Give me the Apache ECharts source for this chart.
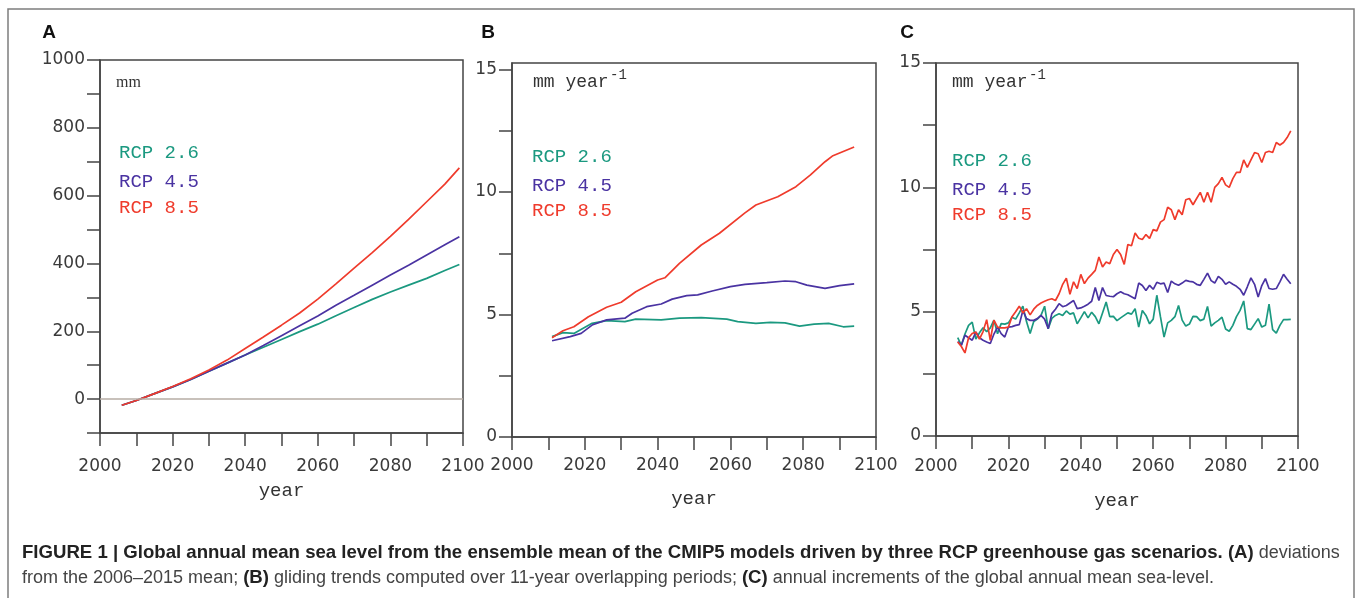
<!DOCTYPE html>
<html>
<head>
<meta charset="utf-8">
<script src="https://cdn.jsdelivr.net/npm/echarts@6/dist/echarts.min.js"></script>
<style>
html, body { margin: 0; padding: 0; background: #fff; }
#main { width: 1357px; height: 598px; }
</style>
</head>
<body>
<div id="main"></div>
<script>
// ---- data ----
var names = ['RCP 2.6', 'RCP 4.5', 'RCP 8.5'];

// panel A: deviations from 2006-2015 mean, mm
var aYears = [2006, 2010, 2015, 2020, 2025, 2030, 2035, 2040, 2045, 2050, 2055, 2060, 2065, 2070, 2075, 2080, 2085, 2090, 2095, 2099];
var aRcp26 = [-18, -4, 16, 36, 58, 82, 106, 130, 153, 176, 199, 221, 246, 270, 294, 316, 336, 356, 379, 397];
var aRcp45 = [-18, -4, 16, 36, 58, 82, 106, 130, 158, 187, 216, 245, 277, 306, 336, 366, 395, 425, 455, 479];
var aRcp85 = [-18, -4, 16, 37, 60, 86, 115, 149, 183, 218, 254, 295, 340, 386, 432, 480, 530, 582, 634, 682];

// panel B: 11-year gliding trends, mm/year
var bYears26 = [2011, 2014, 2017, 2022, 2026, 2031, 2034, 2041, 2046, 2052, 2059, 2062, 2067, 2071, 2075, 2079, 2083, 2087, 2091, 2094];
var bRcp26 = [4.1, 4.26, 4.23, 4.64, 4.75, 4.71, 4.81, 4.78, 4.85, 4.87, 4.81, 4.71, 4.64, 4.68, 4.66, 4.53, 4.61, 4.64, 4.5, 4.53];
var bYears45 = [2011, 2016, 2019, 2022, 2026, 2031, 2033, 2037, 2041, 2044, 2048, 2051, 2055, 2060, 2064, 2070, 2075, 2078, 2081, 2086, 2090, 2094];
var bRcp45 = [3.93, 4.1, 4.23, 4.57, 4.78, 4.85, 5.05, 5.32, 5.43, 5.63, 5.77, 5.8, 5.96, 6.14, 6.23, 6.3, 6.37, 6.34, 6.2, 6.07, 6.18, 6.25];
var bYears85 = [2011, 2014, 2017, 2021, 2026, 2030, 2034, 2040, 2042, 2046, 2052, 2057, 2064, 2067, 2073, 2078, 2082, 2086, 2088, 2094];
var bRcp85 = [4.05, 4.34, 4.5, 4.91, 5.3, 5.5, 5.93, 6.41, 6.5, 7.09, 7.84, 8.32, 9.15, 9.47, 9.81, 10.22, 10.7, 11.24, 11.47, 11.84];

// panel C: annual increments, mm/year, one value per year from cStartYear
var cStartYear = 2006;
var cRcp26 = [
  3.96, 3.65, 4.1, 4.45, 4.58, 3.9, 4.15, 4.35, 4.2, 4.35,
  4.66, 4.11, 4.52, 4.5, 4.55, 4.78, 4.7, 4.95, 5.22, 4.6,
  4.12, 4.6, 4.7, 4.85, 5.22, 4.31, 4.73, 4.85, 4.92, 4.85,
  5.03, 4.9, 4.95, 4.51, 4.75, 5.0, 4.75, 4.98, 4.8, 4.51,
  4.95, 5.39, 4.8, 4.81, 4.64, 4.75, 4.85, 4.95, 4.9, 5.12,
  4.38, 5.05, 4.85, 4.51, 4.7, 5.66, 4.8, 3.98, 4.55, 4.65,
  4.8, 5.25, 4.66, 4.42, 4.5, 4.81, 4.8, 4.64, 4.7, 5.21,
  4.42, 4.55, 4.65, 4.78, 4.3, 4.21, 4.45, 4.8, 5.05, 5.43,
  4.32, 4.28, 4.5, 4.72, 4.38, 4.45, 5.3, 4.28, 4.14, 4.45,
  4.68, 4.68, 4.69
];
var cRcp45 = [
  3.8, 3.65, 4.05, 3.95, 3.85, 4.18, 3.95, 3.85, 3.78, 3.72,
  4.1, 4.38, 4.12, 3.98, 4.38, 4.4, 4.45, 4.48, 5.05, 4.72,
  4.65, 4.65, 4.72, 4.85, 4.7, 4.32, 4.92, 5.1, 5.32, 5.2,
  5.25, 5.35, 5.45, 5.12, 5.15, 5.22, 5.3, 5.42, 5.97, 5.45,
  5.97, 5.65, 5.62, 5.6, 5.72, 5.8, 5.72, 5.68, 5.6, 5.52,
  6.15, 6.05, 5.85, 6.06, 5.9, 6.18, 6.12, 6.15, 5.77, 6.23,
  6.12, 6.06, 6.15, 6.26, 6.22, 6.2, 6.1, 6.06, 6.3, 6.55,
  6.25, 6.15, 6.42, 6.3, 6.1, 6.2, 6.1, 6.02, 5.9, 5.66,
  6.0, 6.36, 6.1, 5.59, 6.05, 6.33, 5.93, 5.9, 5.93, 6.2,
  6.5, 6.3, 6.12
];
var cRcp85 = [
  3.78, 3.6, 3.34, 3.95, 4.12, 4.18, 3.9, 4.2, 4.68, 3.85,
  4.66, 4.38, 4.35, 4.35, 4.38, 4.8, 5.0, 5.22, 4.95, 5.12,
  4.87, 5.1, 5.25, 5.35, 5.42, 5.48, 5.52, 5.45, 5.72, 6.1,
  6.35, 5.7, 6.2, 5.93, 6.5, 6.13, 6.35, 6.5, 6.66, 7.2,
  6.8, 7.0, 6.93, 7.3, 7.5, 7.3, 6.9, 7.7, 7.65, 8.16,
  7.95, 7.9, 8.1, 7.95, 8.3, 8.25, 8.6, 8.7, 9.2, 9.1,
  8.7, 9.1, 8.9, 9.5, 9.55, 9.3, 9.55, 9.8, 9.4, 9.8,
  9.4, 10.0, 10.15, 10.4, 10.1, 10.0, 10.35, 10.6, 10.6, 11.1,
  10.8, 11.1, 11.4, 11.35, 11.0, 11.4, 11.45, 11.4, 11.8, 11.7,
  11.8, 12.0, 12.27
];

// ticks and tick labels
var xTicks = [2000, 2010, 2020, 2030, 2040, 2050, 2060, 2070, 2080, 2090, 2100];
var xLabels = [2000, 2020, 2040, 2060, 2080, 2100];
var aYTicks = [-100, 0, 100, 200, 300, 400, 500, 600, 700, 800, 900, 1000];
var aYLabels = [0, 200, 400, 600, 800, 1000];
var bcYTicks = [0, 2.5, 5, 7.5, 10, 12.5, 15];
var bcYLabels = [0, 5, 10, 15];

var caption1 = '{b|FIGURE 1 | Global annual mean sea level from the ensemble mean of the CMIP5 models driven by three RCP greenhouse gas scenarios. (A)}{n| deviations}';
var caption2 = '{n|from the 2006\u20132015 mean; }{b|(B)}{n| gliding trends computed over 11-year overlapping periods; }{b|(C)}{n| annual increments of the global annual mean sea-level.}';

// ---- helpers ----
var colors = ['#1b9980', '#4a33a2', '#ef3b2c'];
var axisColor = '#444';
var tickFont = 'DejaVu Sans';
var monoFont = 'Liberation Mono';

function pairs(xs, ys) {
  return xs.map(function (x, i) { return [x, ys[i]]; });
}
function yearly(start, ys) {
  return ys.map(function (v, i) { return [start + i, v]; });
}
function plain(v) { return String(v); }

function xAxisFor(gi, margin, gap) {
  return {
    type: 'value', gridIndex: gi, min: 2000, max: 2100,
    axisLine: { show: true, onZero: false, lineStyle: { color: axisColor, width: 1.5 } },
    axisTick: { show: true, length: 13, customValues: xTicks, lineStyle: { color: axisColor, width: 1.5 } },
    axisLabel: { customValues: xLabels, formatter: plain, margin: margin, fontFamily: tickFont, fontSize: 17, color: '#3a3a3a' },
    splitLine: { show: false },
    name: 'year', nameLocation: 'middle', nameGap: gap,
    nameTextStyle: { fontFamily: monoFont, fontSize: 19, color: '#333' }
  };
}
function yAxisFor(gi, min, max, ticks, labels) {
  return {
    type: 'value', gridIndex: gi, min: min, max: max,
    axisLine: { show: true, onZero: false, lineStyle: { color: axisColor, width: 1.5 } },
    axisTick: { show: true, length: 13, customValues: ticks, lineStyle: { color: axisColor, width: 1.5 } },
    axisLabel: { customValues: labels, formatter: plain, margin: 15, fontFamily: tickFont, fontSize: 17, color: '#3a3a3a' },
    splitLine: { show: false }
  };
}
function lineSeries(gi, idx, data, extra) {
  var s = {
    type: 'line', name: names[idx], xAxisIndex: gi, yAxisIndex: gi,
    data: data, showSymbol: false, symbol: 'none', silent: true,
    lineStyle: { color: colors[idx], width: 1.7 },
    itemStyle: { color: colors[idx] }
  };
  if (extra) { for (var k in extra) s[k] = extra[k]; }
  return s;
}
function txt(x, y, text, font, fill, align) {
  return {
    type: 'text', silent: true,
    style: {
      x: x, y: y, text: text, font: font, fill: fill,
      align: align || 'left', verticalAlign: 'middle',
      textAlign: align || 'left', textVerticalAlign: 'middle'
    }
  };
}
function rcpLabels(x, ys) {
  return names.map(function (n, i) {
    return txt(x, ys[i], n, '19px "' + monoFont + '"', colors[i]);
  });
}

var grid = { show: true, borderColor: axisColor, borderWidth: 1.5, backgroundColor: 'transparent', containLabel: false, outerBoundsMode: 'none' };
function g(left, top, right, bottom) {
  return Object.assign({}, grid, { left: left, top: top, right: right, bottom: bottom });
}

var capRich = {
  b: { fontFamily: 'Liberation Sans', fontWeight: 'bold', fontSize: 18.6, fill: '#222', color: '#222' },
  n: { fontFamily: 'Liberation Sans', fontWeight: 'normal', fontSize: 18, fill: '#444', color: '#444' }
};

var graphics = [
  { type: 'rect', silent: true, shape: { x: 8, y: 9, width: 1346, height: 640 }, style: { fill: 'none', stroke: '#7d7d7d', lineWidth: 1.5 } },
  txt(49, 33, 'A', 'bold 19px "Liberation Sans"', '#111', 'center'),
  txt(488, 33, 'B', 'bold 19px "Liberation Sans"', '#111', 'center'),
  txt(907, 33, 'C', 'bold 19px "Liberation Sans"', '#111', 'center'),
  txt(116, 83, 'mm', '16px "Liberation Serif"', '#333'),
  txt(533, 82, 'mm year', '18px "' + monoFont + '"', '#333'),
  txt(610, 75, '-1', '14px "' + monoFont + '"', '#333'),
  txt(952, 82, 'mm year', '18px "' + monoFont + '"', '#333'),
  txt(1029, 75, '-1', '14px "' + monoFont + '"', '#333'),
  { type: 'text', silent: true, style: { x: 22, y: 553, text: caption1, rich: capRich, verticalAlign: 'middle', textVerticalAlign: 'middle' } },
  { type: 'text', silent: true, style: { x: 22, y: 578, text: caption2, rich: capRich, verticalAlign: 'middle', textVerticalAlign: 'middle' } }
].concat(rcpLabels(119, [153, 182, 208]))
 .concat(rcpLabels(532, [157, 186, 211]))
 .concat(rcpLabels(952, [161, 190, 215]));

var option = {
  animation: false,
  backgroundColor: '#fff',
  grid: [
    g(100, 60, 894, 165),
    g(512, 63, 481, 161),
    g(936, 63, 59, 162)
  ],
  xAxis: [xAxisFor(0, 25, 48), xAxisFor(1, 20, 52), xAxisFor(2, 22, 55)],
  yAxis: [
    yAxisFor(0, -100, 1000, aYTicks, aYLabels),
    yAxisFor(1, 0, 15.27, bcYTicks, bcYLabels),
    yAxisFor(2, 0, 15, bcYTicks, bcYLabels)
  ],
  series: [
    lineSeries(0, 0, pairs(aYears, aRcp26), {
      markLine: {
        silent: true, symbol: 'none', label: { show: false },
        lineStyle: { color: '#b6aca5', type: 'solid', width: 1.5 },
        data: [{ yAxis: 0 }]
      }
    }),
    lineSeries(0, 1, pairs(aYears, aRcp45)),
    lineSeries(0, 2, pairs(aYears, aRcp85)),
    lineSeries(1, 0, pairs(bYears26, bRcp26)),
    lineSeries(1, 1, pairs(bYears45, bRcp45)),
    lineSeries(1, 2, pairs(bYears85, bRcp85)),
    lineSeries(2, 0, yearly(cStartYear, cRcp26)),
    lineSeries(2, 1, yearly(cStartYear, cRcp45)),
    lineSeries(2, 2, yearly(cStartYear, cRcp85))
  ],
  graphic: graphics
};

var myChart = echarts.init(document.getElementById('main'));
myChart.setOption(option);
</script>
</body>
</html>
